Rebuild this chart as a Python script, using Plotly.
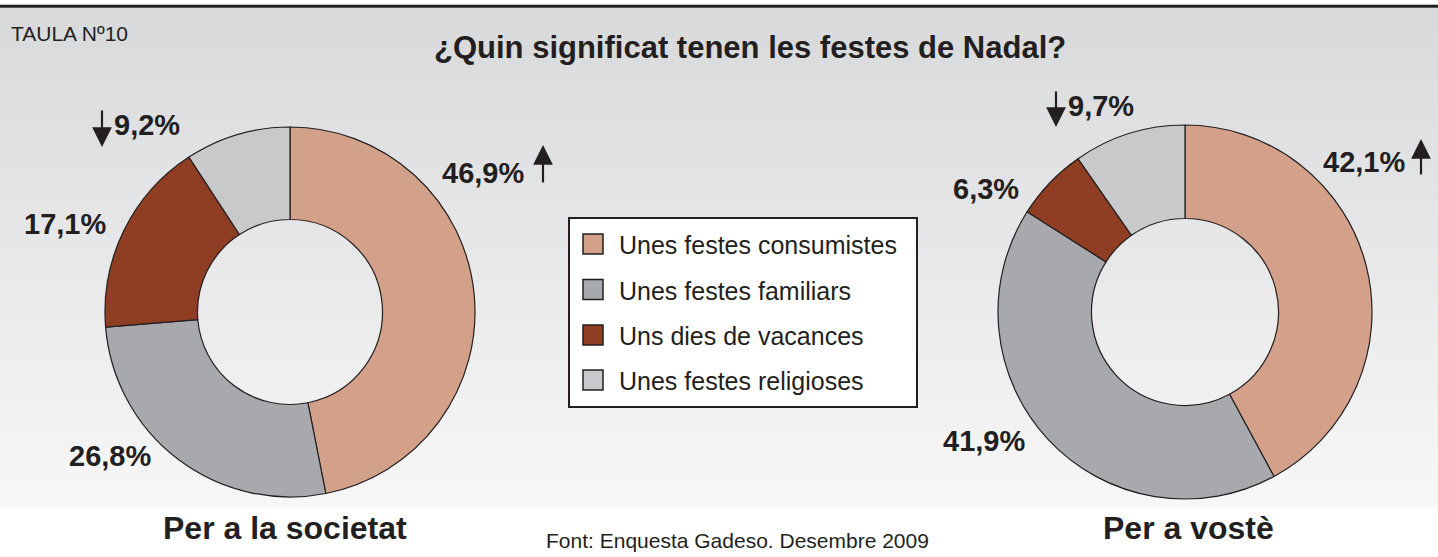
import plotly.graph_objects as go

# ---- data ----
categories = ["Unes festes consumistes", "Unes festes familiars",
              "Uns dies de vacances", "Unes festes religioses"]
societat = [46.9, 26.8, 17.1, 9.2]
voste = [42.1, 41.9, 6.3, 9.7]
colors = ["#d3a18a", "#a8a9ac", "#8f3d23", "#c8c9cb"]
# trend arrows per slice: +1 up, -1 down, 0 none
trend_societat = [1, 0, 0, -1]
trend_voste = [1, 0, 0, -1]

title = "¿Quin significat tenen les festes de Nadal?"
panel_titles = ["Per a la societat", "Per a vostè"]
source = "Font: Enquesta Gadeso. Desembre 2009"
table_tag = "TAULA Nº10"

W, H = 1438, 557
FONT = "Liberation Sans, Arial, sans-serif"
INK = "#231f20"


def px(x):
    return x / W


def py(y):
    return 1 - y / H


def fmt(v):
    return f"{v:.1f}".replace(".", ",") + "%"


fig = go.Figure()

pie_boxes = [
    (105, 475, 127, 497),
    (998, 1372, 125, 499),
]
for vals, (x0, x1, y0, y1) in zip([societat, voste], pie_boxes):
    fig.add_trace(go.Pie(
        labels=categories, values=vals, hole=0.5, sort=False,
        direction="clockwise", rotation=0, textinfo="none",
        marker=dict(colors=colors, line=dict(color=INK, width=1.2)),
        domain=dict(x=[px(x0), px(x1)], y=[py(y1), py(y0)]),
        showlegend=False, hoverinfo="label+value",
    ))

shapes = []
# background gradient bands
top_c = (216, 217, 219)
bot_c = (247, 247, 247)
y_start, y_end = 8, 508
n = 100
for i in range(n):
    ya = y_start + (y_end - y_start) * i / n
    yb = y_start + (y_end - y_start) * (i + 1) / n + 0.6
    t = i / (n - 1)
    c = tuple(int(round(top_c[k] + (bot_c[k] - top_c[k]) * t)) for k in range(3))
    shapes.append(dict(type="rect", xref="paper", yref="paper",
                       x0=0, x1=1, y0=py(yb), y1=py(ya),
                       fillcolor=f"rgb{c}", line=dict(width=0), layer="below"))
# top rule
shapes.append(dict(type="rect", xref="paper", yref="paper", x0=0, x1=1,
                   y0=py(7.8), y1=py(4.8), fillcolor=INK, line=dict(width=0),
                   layer="below"))

# legend box
lx0, lx1, ly0, ly1 = 569, 917, 218, 407
shapes.append(dict(type="rect", xref="paper", yref="paper",
                   x0=px(lx0), x1=px(lx1), y0=py(ly1), y1=py(ly0),
                   fillcolor="white", line=dict(color=INK, width=2)))
annotations = []
row_y = [244, 289.5, 335, 380]
for cat, col, ry in zip(categories, colors, row_y):
    shapes.append(dict(type="rect", xref="paper", yref="paper",
                       x0=px(583), x1=px(603), y0=py(ry + 10), y1=py(ry - 10),
                       fillcolor=col, line=dict(color=INK, width=1.5)))
    annotations.append(dict(x=px(617), y=py(ry + 1), xref="paper", yref="paper",
                            text=cat, showarrow=False, xanchor="left",
                            yanchor="middle",
                            font=dict(family=FONT, size=25, color=INK)))

# value labels
label_pos = [
    [(483, 172), (110, 455), (65, 223), (147, 124)],
    [(1364, 161), (984, 440), (986, 188), (1101, 105)],
]
arrow_pos = [
    [(543, 145, 184), None, None, (102, 147, 109)],
    [(1421, 139, 176), None, None, (1056, 127, 90)],
]
for vals, trends, lpos, apos in zip([societat, voste],
                                     [trend_societat, trend_voste],
                                     label_pos, arrow_pos):
    for v, tr, (lx, ly), ap in zip(vals, trends, lpos, apos):
        annotations.append(dict(x=px(lx), y=py(ly + 1), xref="paper", yref="paper",
                                text=f"<b>{fmt(v)}</b>", showarrow=False,
                                xanchor="center", yanchor="middle",
                                font=dict(family=FONT, size=29, color=INK)))
        if tr != 0 and ap is not None:
            ax_, tip_y, tail_y = ap
            annotations.append(dict(x=px(ax_), y=py(tip_y), xref="paper",
                                    yref="paper", text="", showarrow=True,
                                    ax=0, ay=tail_y - tip_y, arrowhead=2,
                                    arrowsize=1.8, arrowwidth=2.2,
                                    arrowcolor=INK, standoff=0))

# texts
annotations.append(dict(x=px(750), y=py(47), xref="paper", yref="paper",
                        text=f"<b>{title}</b>", showarrow=False,
                        xanchor="center", yanchor="middle",
                        font=dict(family=FONT, size=31, color=INK)))
annotations.append(dict(x=px(9), y=py(33), xref="paper", yref="paper",
                        text=table_tag, showarrow=False,
                        xanchor="left", yanchor="middle",
                        font=dict(family=FONT, size=21, color=INK)))
for t, cx in zip(panel_titles, [285, 1188]):
    annotations.append(dict(x=px(cx), y=py(528), xref="paper", yref="paper",
                            text=f"<b>{t}</b>", showarrow=False,
                            xanchor="center", yanchor="middle",
                            font=dict(family=FONT, size=32, color=INK)))
annotations.append(dict(x=px(737), y=py(540), xref="paper", yref="paper",
                        text=source, showarrow=False,
                        xanchor="center", yanchor="middle",
                        font=dict(family=FONT, size=21, color=INK)))

fig.update_layout(
    width=W, height=H, margin=dict(l=0, r=0, t=0, b=0),
    paper_bgcolor="white", plot_bgcolor="white",
    shapes=shapes, annotations=annotations,
)

fig.write_html(
    "out.html",
    config={"displayModeBar": False},
    post_script="document.body.style.margin='0';document.body.style.overflow='hidden';",
)
